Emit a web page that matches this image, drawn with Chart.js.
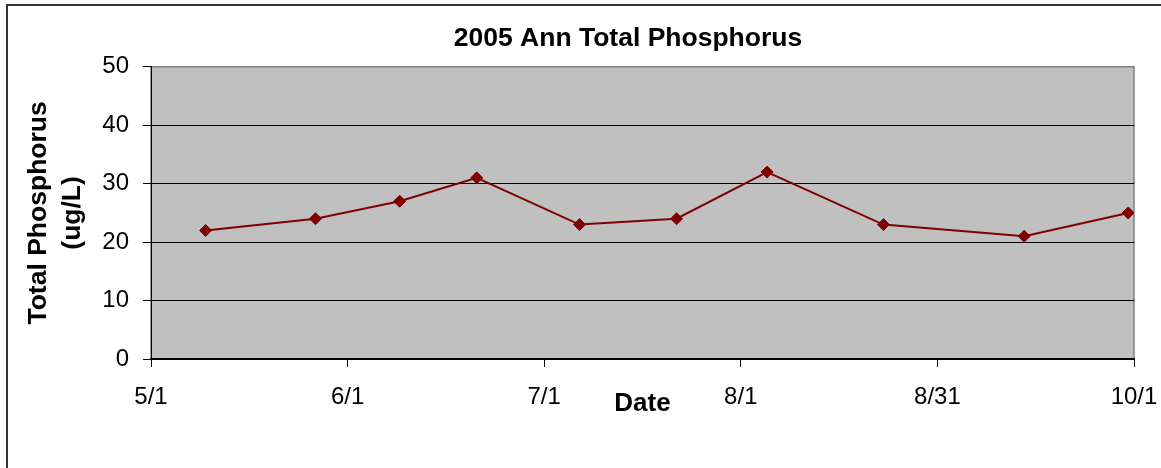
<!DOCTYPE html>
<html>
<head>
<meta charset="utf-8">
<script src="https://cdn.jsdelivr.net/npm/chart.js@4.4.1/dist/chart.umd.min.js"></script>
<style>
  html, body { margin: 0; padding: 0; background: #fff; overflow: hidden; }
  #wrap { width: 1161px; height: 468px; overflow: hidden; position: relative; }
  canvas { display: block; }
</style>
</head>
<body>
<div id="wrap"><canvas id="c" width="1256" height="468"></canvas></div>
<script>
// ---- data ----
const chartTitle = '2005 Ann Total Phosphorus';
const yTitle = ['Total Phosphorus', '(ug/L)'];
const xTitle = 'Date';
// sample days, counted from 5/1 (day 0)
const sampleDays = [8.5, 25.6, 38.7, 50.7, 66.7, 81.8, 95.9, 114.0, 135.9, 152.1];
const phosphorus = [22, 24, 27, 31, 23, 24, 32, 23, 21, 25];
const xTickDays = [0, 30.6, 61.2, 91.8, 122.4, 153];
const xTickLabels = ['5/1', '6/1', '7/1', '8/1', '8/31', '10/1'];
const yTicks = [0, 10, 20, 30, 40, 50];

Chart.defaults.font.family = "Arial, 'Liberation Sans', Helvetica, sans-serif";
Chart.defaults.color = '#000';

const bgPlugin = {
  id: 'bg',
  beforeDraw(chart) {
    const ctx = chart.ctx;
    const a = chart.chartArea;
    ctx.save();
    ctx.fillStyle = '#fff';
    ctx.fillRect(0, 0, chart.width, chart.height);
    ctx.strokeStyle = '#333';
    ctx.lineWidth = 2;
    ctx.strokeRect(7, 5, 1243, 600);
    ctx.fillStyle = '#C0C0C0';
    ctx.fillRect(a.left, a.top, a.right - a.left, a.bottom - a.top);
    ctx.strokeStyle = '#808080';
    ctx.lineWidth = 1.5;
    ctx.strokeRect(a.left, a.top, a.right - a.left, a.bottom - a.top);
    ctx.restore();
  }
};

new Chart(document.getElementById('c'), {
  type: 'line',
  data: {
    datasets: [{
      data: sampleDays.map((d, i) => ({ x: d, y: phosphorus[i] })),
      borderColor: '#800000',
      backgroundColor: '#800000',
      borderWidth: 2,
      tension: 0,
      pointStyle: 'rectRot',
      pointRadius: 6,
      pointBorderWidth: 1,
      pointBorderColor: '#800000',
      pointBackgroundColor: '#800000'
    }]
  },
  options: {
    responsive: false,
    animation: false,
    devicePixelRatio: 1,
    layout: { padding: { left: 0, right: 0, top: 0, bottom: 49 } },
    plugins: {
      legend: { display: false },
      tooltip: { enabled: false },
      title: {
        display: true,
        text: chartTitle,
        color: '#000',
        font: { size: 26.5, weight: 'bold', lineHeight: 1.2 },
        padding: { top: 22.5, bottom: 12.5 }
      }
    },
    scales: {
      x: {
        type: 'linear',
        min: xTickDays[0],
        max: xTickDays[xTickDays.length - 1],
        afterBuildTicks(scale) { scale.ticks = xTickDays.map(v => ({ value: v })); },
        afterFit(scale) { scale.height = 60; },
        ticks: {
          autoSkip: false,
          maxRotation: 0,
          padding: 16,
          color: '#000',
          font: { size: 24 },
          callback: (v, i) => xTickLabels[i]
        },
        grid: { drawOnChartArea: false, drawTicks: true, tickLength: 8, color: '#000', lineWidth: 1 },
        border: { display: true, color: '#000', width: 1.5 },
        title: {
          display: true,
          text: xTitle,
          color: '#000',
          font: { size: 26, weight: 'bold', lineHeight: 1.2 },
          padding: 0
        }
      },
      y: {
        min: 0,
        max: 50,
        afterBuildTicks(scale) { scale.ticks = yTicks.map(v => ({ value: v })); },
        afterFit(scale) { scale.width = 151; },
        ticks: { padding: 14, color: '#000', font: { size: 24 } },
        grid: {
          drawOnChartArea: true,
          tickLength: 8,
          color: ctx => (ctx.tick && ctx.tick.value === 50 ? '#808080' : '#000'),
          tickColor: '#000',
          lineWidth: 1
        },
        border: { display: true, color: '#000', width: 1 },
        title: {
          display: true,
          text: yTitle,
          color: '#000',
          font: { size: 26.5, weight: 'bold', lineHeight: 1.3 },
          padding: { top: 21, bottom: 0 }
        }
      },
      // empty right margin of the (wider, cropped) chart box
      yRight: {
        position: 'right',
        display: true,
        min: 0,
        max: 50,
        afterFit(scale) { scale.width = 122; },
        ticks: { display: false },
        grid: { display: false, drawOnChartArea: false },
        border: { display: false }
      }
    }
  },
  plugins: [bgPlugin]
});
</script>
</body>
</html>
